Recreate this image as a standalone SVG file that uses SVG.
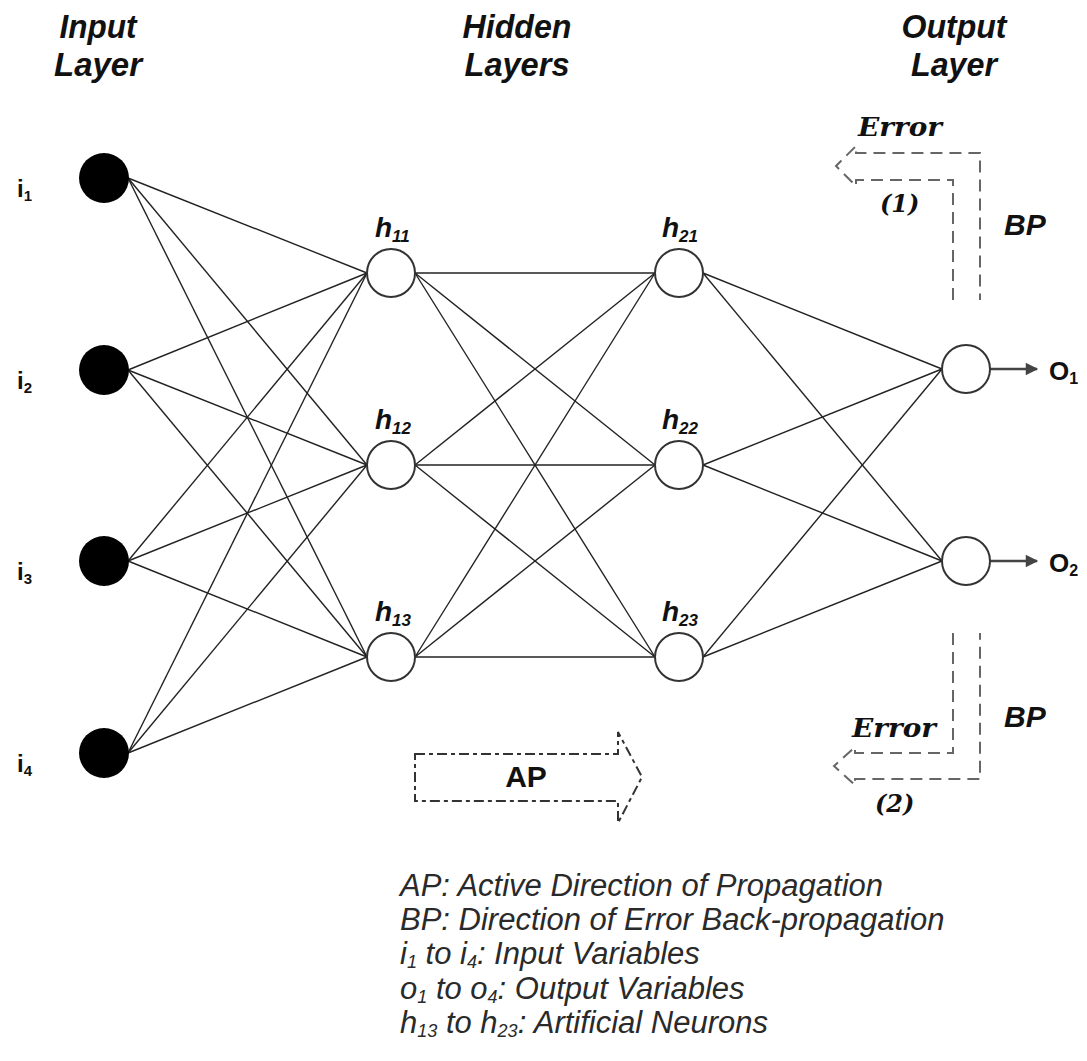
<svg xmlns="http://www.w3.org/2000/svg" width="1087" height="1061" viewBox="0 0 1087 1061">
  <style>
    .head { font-family: "Liberation Sans", Arial, sans-serif; font-weight: bold; font-style: italic; font-size: 34px; fill: #111; text-anchor: middle; }
    .edge { stroke: #222; stroke-width: 1.4; fill: none; }
    .in { fill: #000; }
    .hid { fill: #fff; stroke: #333; stroke-width: 2; }
    .lbl { font-family: "Liberation Sans", Arial, sans-serif; font-weight: bold; fill: #111; }
    .hl { font-family: "Liberation Sans", Arial, sans-serif; font-weight: bold; font-style: italic; font-size: 28px; fill: #111; }
    .sub { font-size: 17px; }
    .bp { fill: none; stroke: #666; stroke-width: 2; stroke-dasharray: 12 7; }
    .ap { fill: none; stroke: #333; stroke-width: 2; stroke-dasharray: 10 4 4 4; }
    .serif { font-family: "DejaVu Serif", "Liberation Serif", serif; font-weight: bold; font-style: italic; fill: #111; }
    .big { font-family: "Liberation Sans", Arial, sans-serif; font-weight: bold; font-style: italic; font-size: 30px; fill: #111; }
    .upright { font-family: "Liberation Sans", Arial, sans-serif; font-weight: bold; font-style: normal; font-size: 30px; fill: #111; }
    .legend { font-family: "Liberation Sans", Arial, sans-serif; font-style: italic; font-size: 31px; fill: #2a2a2a; }
    .out { stroke: #444; stroke-width: 2.5; }
  </style>
  <defs>
    <marker id="arrow" viewBox="0 0 10 10" refX="9" refY="5" markerWidth="6" markerHeight="5" markerUnits="strokeWidth" orient="auto">
      <path d="M0,0 L10,5 L0,10 Z" fill="#444"/>
    </marker>
  </defs>
  <rect width="1087" height="1061" fill="#fff"/>

  <!-- layer headings -->
  <g id="headings">
    <text class="head" x="98" y="38" textLength="77" lengthAdjust="spacingAndGlyphs">Input</text>
    <text class="head" x="98" y="76" textLength="88" lengthAdjust="spacingAndGlyphs">Layer</text>
    <text class="head" x="517" y="38" textLength="109" lengthAdjust="spacingAndGlyphs">Hidden</text>
    <text class="head" x="517" y="76" textLength="105" lengthAdjust="spacingAndGlyphs">Layers</text>
    <text class="head" x="954" y="38" textLength="105" lengthAdjust="spacingAndGlyphs">Output</text>
    <text class="head" x="954" y="76" textLength="86" lengthAdjust="spacingAndGlyphs">Layer</text>
  </g>

  <!-- weighted connections -->
  <g id="connectors">
    <!-- input -> hidden 1 -->
    <line class="edge" x1="128" y1="178" x2="367" y2="273"/>
    <line class="edge" x1="128" y1="178" x2="367" y2="465"/>
    <line class="edge" x1="128" y1="178" x2="367" y2="657"/>
    <line class="edge" x1="128" y1="370" x2="367" y2="273"/>
    <line class="edge" x1="128" y1="370" x2="367" y2="465"/>
    <line class="edge" x1="128" y1="370" x2="367" y2="657"/>
    <line class="edge" x1="128" y1="561" x2="367" y2="273"/>
    <line class="edge" x1="128" y1="561" x2="367" y2="465"/>
    <line class="edge" x1="128" y1="561" x2="367" y2="657"/>
    <line class="edge" x1="128" y1="753" x2="367" y2="273"/>
    <line class="edge" x1="128" y1="753" x2="367" y2="465"/>
    <line class="edge" x1="128" y1="753" x2="367" y2="657"/>
    <!-- hidden 1 -> hidden 2 -->
    <line class="edge" x1="415" y1="273" x2="655" y2="273"/>
    <line class="edge" x1="415" y1="273" x2="655" y2="465"/>
    <line class="edge" x1="415" y1="273" x2="655" y2="657"/>
    <line class="edge" x1="415" y1="465" x2="655" y2="273"/>
    <line class="edge" x1="415" y1="465" x2="655" y2="465"/>
    <line class="edge" x1="415" y1="465" x2="655" y2="657"/>
    <line class="edge" x1="415" y1="657" x2="655" y2="273"/>
    <line class="edge" x1="415" y1="657" x2="655" y2="465"/>
    <line class="edge" x1="415" y1="657" x2="655" y2="657"/>
    <!-- hidden 2 -> output -->
    <line class="edge" x1="703" y1="273" x2="942" y2="369"/>
    <line class="edge" x1="703" y1="273" x2="942" y2="561"/>
    <line class="edge" x1="703" y1="465" x2="942" y2="369"/>
    <line class="edge" x1="703" y1="465" x2="942" y2="561"/>
    <line class="edge" x1="703" y1="657" x2="942" y2="369"/>
    <line class="edge" x1="703" y1="657" x2="942" y2="561"/>
    <!-- outputs -->
    <line class="out" x1="990" y1="369" x2="1037" y2="369" marker-end="url(#arrow)"/>
    <line class="out" x1="990" y1="561" x2="1037" y2="561" marker-end="url(#arrow)"/>
  </g>

  <!-- input nodes -->
  <g id="i1"><circle class="in" cx="104" cy="178" r="25"/><text class="lbl" x="17" y="197" font-size="24">i<tspan font-size="15" dy="4">1</tspan></text></g>
  <g id="i2"><circle class="in" cx="104" cy="370" r="25"/><text class="lbl" x="17" y="389" font-size="24">i<tspan font-size="15" dy="4">2</tspan></text></g>
  <g id="i3"><circle class="in" cx="104" cy="561" r="25"/><text class="lbl" x="17" y="580" font-size="24">i<tspan font-size="15" dy="4">3</tspan></text></g>
  <g id="i4"><circle class="in" cx="104" cy="753" r="25"/><text class="lbl" x="17" y="772" font-size="24">i<tspan font-size="15" dy="4">4</tspan></text></g>

  <!-- hidden layer 1 -->
  <g id="h11"><circle class="hid" cx="391" cy="273" r="24"/><text class="hl" x="375" y="237">h<tspan class="sub" dy="5">11</tspan></text></g>
  <g id="h12"><circle class="hid" cx="391" cy="465" r="24"/><text class="hl" x="375" y="429">h<tspan class="sub" dy="5">12</tspan></text></g>
  <g id="h13"><circle class="hid" cx="391" cy="657" r="24"/><text class="hl" x="375" y="621">h<tspan class="sub" dy="5">13</tspan></text></g>

  <!-- hidden layer 2 -->
  <g id="h21"><circle class="hid" cx="679" cy="273" r="24"/><text class="hl" x="662" y="237">h<tspan class="sub" dy="5">21</tspan></text></g>
  <g id="h22"><circle class="hid" cx="679" cy="465" r="24"/><text class="hl" x="662" y="429">h<tspan class="sub" dy="5">22</tspan></text></g>
  <g id="h23"><circle class="hid" cx="679" cy="657" r="24"/><text class="hl" x="662" y="621">h<tspan class="sub" dy="5">23</tspan></text></g>

  <!-- output nodes -->
  <g id="o1"><circle class="hid" cx="966" cy="369" r="24"/><text class="lbl" x="1049" y="380" font-size="26">O<tspan font-size="16" dy="4">1</tspan></text></g>
  <g id="o2"><circle class="hid" cx="966" cy="561" r="24"/><text class="lbl" x="1049" y="572" font-size="26">O<tspan font-size="16" dy="4">2</tspan></text></g>

  <!-- back-propagation arrow (1) -->
  <g id="bp1">
    <path class="bp" d="M953,300 V180 H856 V186 L836,166 L856,146 V153 H980 V300"/>
    <text class="serif" x="858" y="136" font-size="26" textLength="84" lengthAdjust="spacingAndGlyphs">Error</text>
    <text class="serif" x="880" y="212" font-size="24">(1)</text>
    <text class="big" x="1004" y="235">BP</text>
  </g>

  <!-- back-propagation arrow (2) -->
  <g id="bp2">
    <path class="bp" d="M953,633 V753 H855 V747 L834,766 L855,785 V779 H980 V633"/>
    <text class="serif" x="852" y="737" font-size="26" textLength="84" lengthAdjust="spacingAndGlyphs">Error</text>
    <text class="serif" x="875" y="812" font-size="24">(2)</text>
    <text class="big" x="1004" y="727">BP</text>
  </g>

  <!-- forward propagation arrow -->
  <g id="ap">
    <path class="ap" d="M415,754 H618 V732 L642,777 L618,823 V801 H415 Z"/>
    <text class="upright" x="526" y="787" text-anchor="middle">AP</text>
  </g>

  <!-- legend -->
  <g id="legend" class="legend">
    <text x="400" y="896">AP: Active Direction of Propagation</text>
    <text x="400" y="930">BP: Direction of Error Back-propagation</text>
    <text x="400" y="964">i<tspan font-size="18" dy="4">1</tspan><tspan dy="-4"> to i</tspan><tspan font-size="18" dy="4">4</tspan><tspan dy="-4">: Input Variables</tspan></text>
    <text x="400" y="999">o<tspan font-size="18" dy="4">1</tspan><tspan dy="-4"> to o</tspan><tspan font-size="18" dy="4">4</tspan><tspan dy="-4">: Output Variables</tspan></text>
    <text x="400" y="1033">h<tspan font-size="18" dy="4">13</tspan><tspan dy="-4"> to h</tspan><tspan font-size="18" dy="4">23</tspan><tspan dy="-4">: Artificial Neurons</tspan></text>
  </g>
</svg>
